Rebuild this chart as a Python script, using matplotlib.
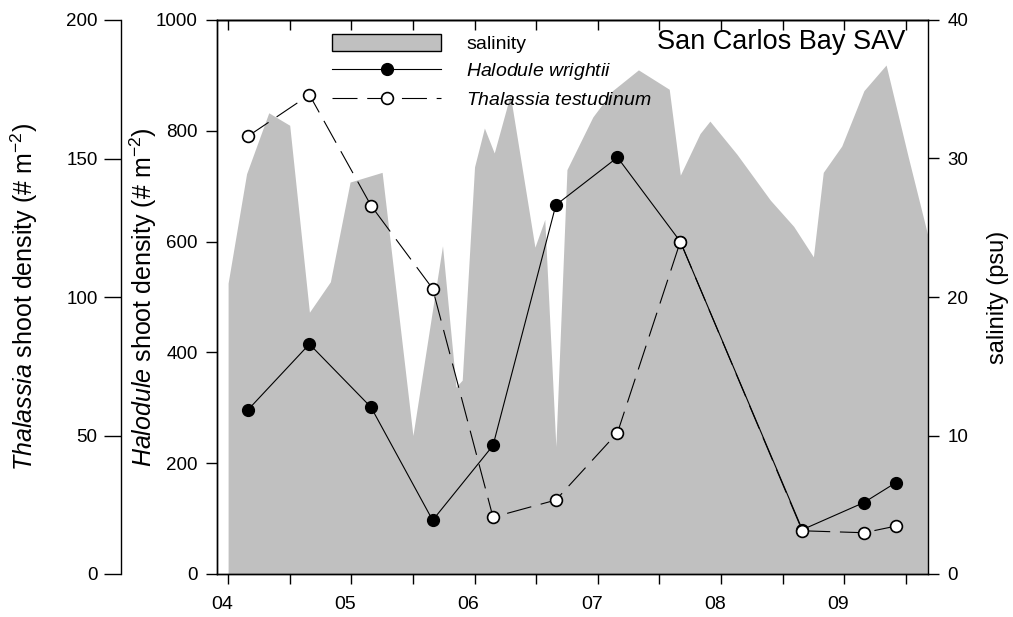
import numpy as np
import matplotlib
matplotlib.use("Agg")
import matplotlib.pyplot as plt
import matplotlib.transforms as mtransforms
from matplotlib.patches import Patch
from matplotlib.lines import Line2D

plt.rcParams['font.family'] = ['Liberation Sans', 'DejaVu Sans']
plt.rcParams['mathtext.fontset'] = 'custom'
plt.rcParams['mathtext.rm'] = 'Liberation Sans'
plt.rcParams['mathtext.it'] = 'Liberation Sans:italic'
plt.rcParams['lines.scale_dashes'] = False

# sampling dates (decimal year) and shoot densities
dates = [2004.16, 2004.66, 2005.16, 2005.66, 2006.15, 2006.66, 2007.16, 2007.67, 2008.66, 2009.16, 2009.42]
halodule = [296, 415, 301, 97, 232, 666, 752, 600, 80, 129, 165]
thalassia = [158, 173, 133, 103, 20.5, 26.7, 51, 120, 15.6, 14.9, 17.3]

# salinity record
sal_dates = [2004.00, 2004.15, 2004.33, 2004.50, 2004.66, 2004.83, 2004.99, 2005.25, 2005.50,
             2005.74, 2005.85, 2005.90, 2006.00, 2006.08, 2006.16, 2006.29, 2006.49, 2006.57,
             2006.66, 2006.75, 2006.96, 2007.12, 2007.33, 2007.58, 2007.67, 2007.83, 2007.91,
             2008.13, 2008.40, 2008.59, 2008.75, 2008.83, 2008.98, 2009.16, 2009.34, 2009.52, 2009.68]
salinity = [21.0, 28.9, 33.3, 32.4, 18.9, 21.1, 28.3, 29.0, 10.0,
            23.7, 13.5, 14.0, 29.4, 32.2, 30.4, 34.6, 23.6, 25.6,
            9.2, 29.2, 33.0, 34.9, 36.4, 35.0, 28.8, 31.8, 32.7,
            30.3, 27.0, 25.1, 22.9, 29.0, 30.9, 34.9, 36.75, 30.1, 24.4]

years = [2004, 2005, 2006, 2007, 2008, 2009]
year_labels = ['04', '05', '06', '07', '08', '09']

fig = plt.figure(figsize=(10.13, 6.17), dpi=100)
ax = fig.add_axes([217/1013, 1 - 574/617, 711/1013, 554/617])
ax_sal = ax.twinx()
ax_th = ax.twinx()

# layer order: salinity area at the back, then Halodule, then Thalassia
ax_sal.set_zorder(1)
ax.set_zorder(2)
ax_th.set_zorder(3)
ax.patch.set_visible(False)
ax_th.patch.set_visible(False)

ax_sal.fill_between(sal_dates, 0, salinity, color='#c0c0c0', lw=0)
ax_sal.set_ylim(0, 40)
ax_sal.set_yticks([0, 10, 20, 30, 40])
ax_sal.set_ylabel('salinity (psu)', fontsize=17)
ax_sal.yaxis.set_label_coords(1.083, 0.5)

ax.plot(dates, halodule, '-', color='black', lw=0.8,
        marker='o', ms=8.5, mfc='black', mec='black', mew=1)
ax.set_ylim(0, 1000)
ax.set_yticks(np.arange(0, 1001, 200))
ax.set_ylabel(r'$\mathit{Halodule}$ shoot density (# m$^{-2}$)', fontsize=18)
ax.yaxis.set_label_coords(-0.082, 0.5)

ax_th.plot(dates, thalassia, color='black', lw=0.8, dashes=(18, 7),
           marker='o', ms=8.5, mfc='white', mec='black', mew=1.2)
ax_th.set_ylim(0, 200)
ax_th.set_yticks(np.arange(0, 201, 50))
ax_th.yaxis.tick_left()
ax_th.yaxis.set_label_position('left')
ax_th.spines['left'].set_position(('outward', 69))
ax_th.spines['right'].set_visible(False)
ax_th.spines['top'].set_visible(False)
ax_th.spines['bottom'].set_visible(False)
ax_th.set_ylabel(r'$\mathit{Thalassia}$ shoot density (# m$^{-2}$)', fontsize=18)
ax_th.yaxis.set_label_coords(-0.249, 0.5)

ax.set_xlim(2003.91, 2009.68)
ax.set_xticks(years)
ax.set_xticklabels(year_labels)
ax.set_xticks(np.arange(2004.5, 2009.6, 1.0), minor=True)
ax.tick_params(axis='x', which='both', direction='out', length=7, width=1, labelsize=14, pad=9)
# year labels sit slightly left of their ticks
shift = mtransforms.ScaledTranslation(-0.06, 0, fig.dpi_scale_trans)
for lab in ax.get_xticklabels():
    lab.set_transform(lab.get_transform() + shift)

top = ax.secondary_xaxis('top')
top.set_xticks(np.arange(2004, 2009.6, 0.5))
top.tick_params(direction='in', length=7, width=1, labeltop=False)
top.spines['top'].set_linewidth(1)

ax.tick_params(axis='y', direction='out', length=8, width=1, labelsize=13.5, pad=6)
ax_sal.tick_params(axis='y', direction='out', length=8, width=1, labelsize=13.5, pad=6)
ax_th.tick_params(axis='y', direction='out', length=12, width=1, labelsize=13.5, pad=5)

for a in (ax, ax_sal, ax_th):
    for s in a.spines.values():
        s.set_linewidth(1)
ax.spines['right'].set_visible(False)

handles = [Patch(facecolor='#c0c0c0', edgecolor='black', lw=1),
           Line2D([], [], color='black', lw=0.8, marker='o', ms=8.5, mfc='black'),
           Line2D([], [], color='black', lw=0.8, dashes=(18, 7), marker='o', ms=8.5,
                  mfc='white', mec='black', mew=1.2)]
labels = ['salinity', r'$\mathit{Halodule\ wrightii}$', r'$\mathit{Thalassia\ testudinum}$']
ax_th.legend(handles, labels, loc='upper left', bbox_to_anchor=(0.162, 0.974),
             frameon=False, fontsize=14, handlelength=5.6, handleheight=0.95,
             handletextpad=1.3, borderpad=0, borderaxespad=0, labelspacing=0.4)

ax_th.text(0.968, 0.984, 'San Carlos Bay SAV', transform=ax_th.transAxes,
           ha='right', va='top', fontsize=19.5)

fig.savefig('out.png', dpi=100)
